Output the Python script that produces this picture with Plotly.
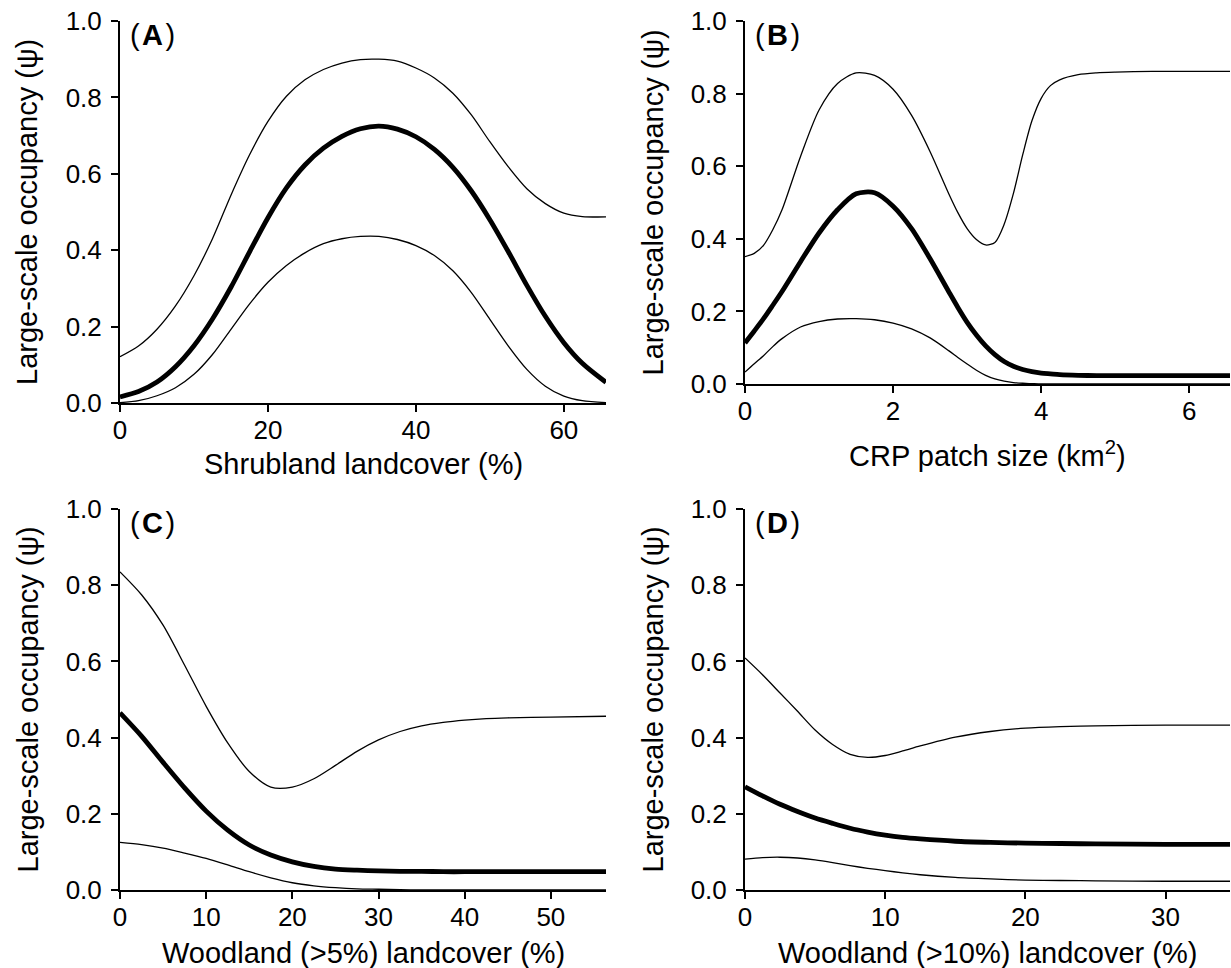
import plotly.graph_objects as go

# ---------------- data ----------------
# Panel A: Shrubland landcover (%)
a_x = [0, 2.5, 5, 7.5, 10, 12.5, 15, 17.5, 20, 22.5, 25, 27.5, 30, 32.5, 35,
       37.5, 40, 42.5, 45, 47.5, 50, 52.5, 55, 57.5, 60, 62.5, 65.7]
a_mean = [0.016, 0.030, 0.055, 0.095, 0.150, 0.220, 0.303, 0.395, 0.485, 0.563,
          0.623, 0.667, 0.698, 0.718, 0.725, 0.717, 0.697, 0.664, 0.617, 0.555,
          0.480, 0.396, 0.308, 0.227, 0.158, 0.104, 0.054]
a_upper = [0.121, 0.149, 0.193, 0.254, 0.333, 0.430, 0.544, 0.649, 0.737, 0.803,
           0.846, 0.873, 0.890, 0.899, 0.900, 0.895, 0.877, 0.851, 0.811, 0.754,
           0.684, 0.618, 0.561, 0.522, 0.497, 0.488, 0.487]
a_lower = [0.001, 0.006, 0.019, 0.040, 0.075, 0.127, 0.193, 0.259, 0.316, 0.360,
           0.393, 0.417, 0.430, 0.436, 0.436, 0.428, 0.412, 0.386, 0.346, 0.289,
           0.219, 0.149, 0.088, 0.044, 0.018, 0.006, 0.001]

# Panel B: CRP patch size (km2)
b_x = [0, 0.125, 0.25, 0.375, 0.5, 0.75, 1.0, 1.25, 1.5, 1.75, 2.0, 2.25, 2.5,
       2.75, 2.875, 3.0, 3.125, 3.25, 3.375, 3.5, 3.625, 3.75, 3.875, 4.0,
       4.125, 4.25, 4.5, 4.75, 5.0, 5.5, 6.55]
b_mean = [0.113, 0.146, 0.180, 0.217, 0.255, 0.337, 0.416, 0.480, 0.524, 0.527,
          0.490, 0.428, 0.345, 0.255, 0.211, 0.170, 0.135, 0.105, 0.081, 0.062,
          0.049, 0.040, 0.034, 0.030, 0.028, 0.026, 0.024, 0.023, 0.023, 0.023, 0.023]
b_upper = [0.351, 0.360, 0.382, 0.425, 0.480, 0.627, 0.755, 0.828, 0.857, 0.850,
           0.812, 0.740, 0.640, 0.525, 0.472, 0.428, 0.398, 0.383, 0.390, 0.440,
           0.525, 0.631, 0.725, 0.787, 0.822, 0.838, 0.852, 0.857, 0.859, 0.861, 0.861]
b_lower = [0.033, 0.056, 0.078, 0.103, 0.125, 0.157, 0.172, 0.179, 0.180, 0.177,
           0.168, 0.152, 0.127, 0.092, 0.073, 0.055, 0.038, 0.024, 0.014, 0.008,
           0.004, 0.002, 0.001, 0.0, 0.0, 0.0, 0.0, 0.0, 0.0, 0.0, 0.0]

# Panel C: Woodland (>5%) landcover (%)
c_x = [0, 2.5, 5, 7.5, 10, 12.5, 15, 17.5, 20, 22.5, 25, 27.5, 30, 32.5, 35,
       37.5, 40, 42.5, 45, 50, 56.4]
c_mean = [0.465, 0.404, 0.335, 0.268, 0.207, 0.157, 0.118, 0.092, 0.074, 0.062,
          0.055, 0.052, 0.050, 0.049, 0.049, 0.048, 0.048, 0.048, 0.048, 0.048, 0.048]
c_upper = [0.835, 0.775, 0.695, 0.590, 0.482, 0.386, 0.311, 0.270, 0.270, 0.292,
           0.327, 0.364, 0.394, 0.416, 0.431, 0.440, 0.446, 0.450, 0.452, 0.454, 0.456]
c_lower = [0.125, 0.119, 0.110, 0.097, 0.083, 0.066, 0.048, 0.032, 0.019, 0.011,
           0.006, 0.003, 0.002, 0.001, 0.0, 0.0, 0.0, 0.0, 0.0, 0.0, 0.0]

# Panel D: Woodland (>10%) landcover (%)
d_x = [0, 1.25, 2.5, 3.75, 5, 6.25, 7.5, 8.75, 10, 11.25, 12.5, 15, 17.5, 20,
       22.5, 25, 30, 34.6]
d_mean = [0.271, 0.247, 0.225, 0.206, 0.189, 0.175, 0.162, 0.152, 0.144, 0.138,
          0.134, 0.128, 0.125, 0.123, 0.122, 0.121, 0.120, 0.120]
d_upper = [0.609, 0.565, 0.517, 0.469, 0.420, 0.382, 0.356, 0.348, 0.353, 0.365,
           0.378, 0.401, 0.416, 0.425, 0.429, 0.431, 0.433, 0.433]
d_lower = [0.081, 0.085, 0.086, 0.084, 0.079, 0.072, 0.064, 0.057, 0.051, 0.045,
           0.040, 0.033, 0.029, 0.026, 0.025, 0.024, 0.023, 0.023]

x_titles = ["Shrubland landcover (%)", "CRP patch size (km<sup>2</sup>)",
            "Woodland (>5%) landcover (%)", "Woodland (>10%) landcover (%)"]
y_title = "Large-scale occupancy (ψ)"
panel_labels = ["A", "B", "C", "D"]
x_max = [65.7, 6.55, 56.4, 34.6]
x_dtick = [20, 2, 10, 10]

panels = [(a_x, a_mean, a_upper, a_lower), (b_x, b_mean, b_upper, b_lower),
          (c_x, c_mean, c_upper, c_lower), (d_x, d_mean, d_upper, d_lower)]

# ---------------- layout geometry (pixels) ----------------
W, H = 1231, 968
boxes = [(120, 606, 21, 403), (745, 1230, 21, 384),
         (120, 606, 509, 890), (745, 1230, 509, 890)]
xtitle_y = [464, 454, 953, 953]

FONT = "Liberation Sans, Arial, sans-serif"

fig = go.Figure()
layout = dict(
    template="none",
    width=W, height=H, autosize=False,
    margin=dict(l=0, r=0, t=0, b=0, pad=0, autoexpand=False),
    paper_bgcolor="white", plot_bgcolor="white",
    showlegend=False,
    font=dict(family=FONT, size=26, color="black"),
)
annotations = []
HS = "\u200a"

for i, ((xs, m, up, lo), (l, r, t, b)) in enumerate(zip(panels, boxes)):
    n = "" if i == 0 else str(i + 1)
    xa, ya = "x" + n, "y" + n
    for ys, w in ((up, 1.3), (lo, 1.3), (m, 4.8)):
        fig.add_trace(go.Scatter(x=xs, y=ys, mode="lines", xaxis=xa, yaxis=ya,
                                 line=dict(color="black", width=w, shape="spline",
                                           smoothing=0.8),
                                 hoverinfo="skip"))
    axis_common = dict(showgrid=False, zeroline=False, showline=True,
                       automargin=False,
                       linecolor="black", linewidth=2, ticks="outside",
                       ticklen=7, tickwidth=2, tickcolor="black",
                       tickfont=dict(family=FONT, size=26, color="black"))
    layout["xaxis" + n] = dict(axis_common, domain=[l / W, r / W], anchor=ya,
                               range=[0, x_max[i]], dtick=x_dtick[i], tick0=0,
                               ticklabelstandoff=-4)
    layout["yaxis" + n] = dict(axis_common, domain=[1 - b / H, 1 - t / H], anchor=xa,
                               range=[0, 1], dtick=0.2, tick0=0, tickformat=".1f",
                               ticklabelstandoff=4)
    annotations.append(dict(text=x_titles[i], xref="paper", yref="paper",
                            x=(l + r) / 2 / W, y=1 - xtitle_y[i] / H,
                            xanchor="center", yanchor="middle", showarrow=False,
                            font=dict(family=FONT, size=29, color="black")))
    annotations.append(dict(text=y_title, xref="paper", yref="paper",
                            x=(l - 93) / W, y=1 - (t + b) / 2 / H, textangle=-90,
                            xanchor="center", yanchor="middle", showarrow=False,
                            font=dict(family=FONT, size=29, color="black")))
    annotations.append(dict(text="(" + HS + "<b>" + panel_labels[i] + "</b>" + HS + ")",
                            xref="paper", yref="paper", x=(l + 8) / W, y=1 - (t + 14) / H,
                            xanchor="left", yanchor="middle", showarrow=False,
                            font=dict(family=FONT, size=29, color="black")))

layout["annotations"] = annotations
fig.update_layout(**layout)
fig.write_html("out.html")
